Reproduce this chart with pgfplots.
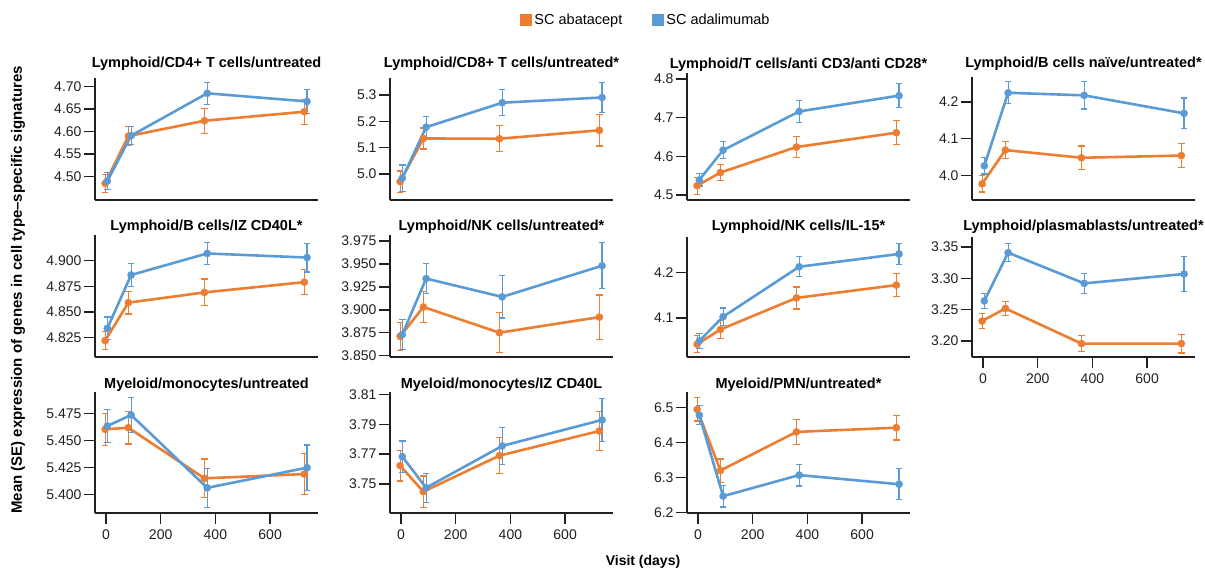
\documentclass[border=0pt]{standalone}
\usepackage{fontspec}
\setmainfont{Liberation Sans}
\usepackage{pgfplots}
\pgfplotsset{compat=1.18}
\definecolor{cOr}{RGB}{237,125,49}
\definecolor{cBl}{RGB}{91,155,213}
\definecolor{axc}{RGB}{35,31,32}
\pgfplotsset{
 panel/.style={
  scale only axis, width=223pt, height=122pt, anchor=south west,
  axis lines*=left, axis line style={line width=1.5pt, color=axc},
  xmin=-40, xmax=775,
  tick style={line width=1.5pt, color=axc},
  major tick length=11pt, tick align=outside,
  tick label style={font=\fontsize{14}{16}\selectfont, text=axc},
  yticklabel style={xshift=1pt},
  xticklabel style={yshift=-2pt},
  xtick=\empty,
  title style={font=\fontsize{14.5}{16}\selectfont\bfseries, at={(0.5,1)}, anchor=base},
  clip=false,
 },
 ts/.style={title style={yshift=#1}},
 xt/.style={xtick={0,200,400,600}, xticklabels={0,200,400,600}},
 ser/.style={line width=2.6pt, color=#1, mark=*, mark size=3.6pt, mark options={solid, line width=0.4pt, fill=#1},
  error bars/.cd, y dir=both, y explicit,
  error bar style={line width=1.2pt, color=#1},
  error mark options={rotate=90, mark size=3.2pt, line width=1.2pt, color=#1}},
}
\begin{document}
\begin{tikzpicture}
\path[use as bounding box] (0,0) rectangle (1205pt,571pt);
% ---------- Row 1 ----------
\begin{axis}[panel, ts=4pt, at={(95pt,371pt)}, ymin=4.448, ymax=4.719,
  ytick={4.50,4.55,4.60,4.65,4.70}, yticklabels={4.50,4.55,4.60,4.65,4.70},
  title={Lymphoid/CD4+ T cells/untreated}]
\addplot[ser=cOr] coordinates {(-3,4.485)+-(0,0.020) (82,4.590)+-(0,0.021) (360,4.624)+-(0,0.028) (725,4.644)+-(0,0.028)};
\addplot[ser=cBl] coordinates {(5,4.490)+-(0,0.019) (92,4.591)+-(0,0.020) (370,4.685)+-(0,0.024) (735,4.667)+-(0,0.027)};
\end{axis}
\begin{axis}[panel, ts=4pt, at={(390pt,371pt)}, ymin=4.901, ymax=5.365,
  ytick={5.0,5.1,5.2,5.3}, yticklabels={5.0,5.1,5.2,5.3},
  title={Lymphoid/CD8+ T cells/untreated*},
  legend style={at={(1.148,1.475)}, anchor=center, draw=none, fill=none, legend columns=2,
   font=\fontsize{14.5}{16}\selectfont, /tikz/every even column/.append style={column sep=28pt}},
  legend image code/.code={\fill[#1, draw=none] (0pt,-6pt) rectangle (12pt,6pt);}]
\addlegendimage{fill=cOr}\addlegendentry{SC abatacept}
\addlegendimage{fill=cBl}\addlegendentry{SC adalimumab}
\addplot[ser=cOr] coordinates {(-3,4.971)+-(0,0.040) (82,5.135)+-(0,0.040) (360,5.134)+-(0,0.050) (725,5.166)+-(0,0.060)};
\addplot[ser=cBl] coordinates {(5,4.984)+-(0,0.050) (92,5.178)+-(0,0.040) (370,5.271)+-(0,0.049) (735,5.291)+-(0,0.057)};
\end{axis}
\begin{axis}[panel, ts=-2pt, height=127pt, at={(687pt,371pt)}, ymin=4.487, ymax=4.8155,
  ytick={4.5,4.6,4.7,4.8}, yticklabels={4.5,4.6,4.7,4.8},
  title={Lymphoid/T cells/anti CD3/anti CD28*}]
\addplot[ser=cOr] coordinates {(-3,4.524)+-(0,0.022) (82,4.558)+-(0,0.020) (360,4.624)+-(0,0.028) (725,4.661)+-(0,0.031)};
\addplot[ser=cBl] coordinates {(5,4.539)+-(0,0.016) (92,4.616)+-(0,0.022) (370,4.716)+-(0,0.029) (735,4.757)+-(0,0.031)};
\end{axis}
\begin{axis}[panel, ts=3pt, height=123pt, at={(972pt,371pt)}, ymin=3.933, ymax=4.268,
  ytick={4.0,4.1,4.2}, yticklabels={4.0,4.1,4.2},
  title={Lymphoid/B cells naïve/untreated*}]
\addplot[ser=cOr] coordinates {(-3,3.977)+-(0,0.022) (82,4.069)+-(0,0.023) (360,4.048)+-(0,0.032) (725,4.054)+-(0,0.032)};
\addplot[ser=cBl] coordinates {(5,4.026)+-(0,0.022) (92,4.225)+-(0,0.030) (370,4.218)+-(0,0.037) (735,4.169)+-(0,0.042)};
\end{axis}
% ---------- Row 2 ----------
\begin{axis}[panel, ts=-2pt, at={(95pt,214pt)}, ymin=4.806, ymax=4.925,
  ytick={4.825,4.850,4.875,4.900}, yticklabels={4.825,4.850,4.875,4.900},
  title={Lymphoid/B cells/IZ CD40L*}]
\addplot[ser=cOr] coordinates {(-3,4.822)+-(0,0.009) (82,4.859)+-(0,0.011) (360,4.869)+-(0,0.013) (725,4.879)+-(0,0.012)};
\addplot[ser=cBl] coordinates {(5,4.834)+-(0,0.011) (92,4.886)+-(0,0.011) (370,4.907)+-(0,0.011) (735,4.903)+-(0,0.014)};
\end{axis}
\begin{axis}[panel, ts=-2pt, at={(390pt,214pt)}, ymin=3.8485, ymax=3.9815,
  ytick={3.850,3.875,3.900,3.925,3.950,3.975}, yticklabels={3.850,3.875,3.900,3.925,3.950,3.975},
  title={Lymphoid/NK cells/untreated*}]
\addplot[ser=cOr] coordinates {(-3,3.871)+-(0,0.015) (82,3.903)+-(0,0.017) (360,3.875)+-(0,0.022) (725,3.892)+-(0,0.024)};
\addplot[ser=cBl] coordinates {(5,3.873)+-(0,0.016) (92,3.934)+-(0,0.016) (370,3.914)+-(0,0.023) (735,3.948)+-(0,0.025)};
\end{axis}
\begin{axis}[panel, ts=0pt, height=120pt, at={(687pt,214pt)}, ymin=4.015, ymax=4.277,
  ytick={4.1,4.2}, yticklabels={4.1,4.2},
  title={Lymphoid/NK cells/IL-15*}]
\addplot[ser=cOr] coordinates {(-3,4.043)+-(0,0.019) (82,4.075)+-(0,0.020) (360,4.144)+-(0,0.024) (725,4.172)+-(0,0.025)};
\addplot[ser=cBl] coordinates {(5,4.050)+-(0,0.017) (92,4.103)+-(0,0.019) (370,4.212)+-(0,0.022) (735,4.240)+-(0,0.023)};
\end{axis}
\begin{axis}[panel, xt, ts=0pt, height=120pt, at={(972pt,214pt)}, ymin=3.1746, ymax=3.366,
  ytick={3.20,3.25,3.30,3.35}, yticklabels={3.20,3.25,3.30,3.35},
  title={Lymphoid/plasmablasts/untreated*}]
\addplot[ser=cOr] coordinates {(-3,3.232)+-(0,0.012) (82,3.252)+-(0,0.011) (360,3.196)+-(0,0.013) (725,3.196)+-(0,0.015)};
\addplot[ser=cBl] coordinates {(5,3.264)+-(0,0.012) (92,3.341)+-(0,0.014) (370,3.292)+-(0,0.016) (735,3.307)+-(0,0.028)};
\end{axis}
% ---------- Row 3 ----------
\begin{axis}[panel, xt, ts=-2pt, height=121pt, at={(95pt,58pt)}, ymin=5.3827, ymax=5.4948,
  ytick={5.400,5.425,5.450,5.475}, yticklabels={5.400,5.425,5.450,5.475},
  title={Myeloid/monocytes/untreated}]
\addplot[ser=cOr] coordinates {(-3,5.4602)+-(0,0.015) (82,5.4617)+-(0,0.015) (360,5.4148)+-(0,0.018) (725,5.4188)+-(0,0.019)};
\addplot[ser=cBl] coordinates {(5,5.4633)+-(0,0.015) (92,5.4735)+-(0,0.016) (370,5.4060)+-(0,0.018) (735,5.4247)+-(0,0.021)};
\end{axis}
\begin{axis}[panel, xt, ts=-2pt, height=121pt, at={(390pt,58pt)}, ymin=3.7306, ymax=3.8116,
  ytick={3.75,3.77,3.79,3.81}, yticklabels={3.75,3.77,3.79,3.81},
  title={Myeloid/monocytes/IZ CD40L}]
\addplot[ser=cOr] coordinates {(-3,3.7623)+-(0,0.0103) (82,3.7449)+-(0,0.0105) (360,3.7690)+-(0,0.0120) (725,3.7855)+-(0,0.0128)};
\addplot[ser=cBl] coordinates {(5,3.7683)+-(0,0.0105) (92,3.7475)+-(0,0.0097) (370,3.7755)+-(0,0.0126) (735,3.7929)+-(0,0.0144)};
\end{axis}
\begin{axis}[panel, xt, ts=-2pt, height=121pt, at={(687pt,58pt)}, ymin=6.199, ymax=6.5437,
  ytick={6.2,6.3,6.4,6.5}, yticklabels={6.2,6.3,6.4,6.5},
  title={Myeloid/PMN/untreated*}]
\addplot[ser=cOr] coordinates {(-3,6.494)+-(0,0.033) (82,6.320)+-(0,0.033) (360,6.430)+-(0,0.036) (725,6.442)+-(0,0.035)};
\addplot[ser=cBl] coordinates {(5,6.478)+-(0,0.028) (92,6.247)+-(0,0.031) (370,6.307)+-(0,0.031) (735,6.281)+-(0,0.044)};
\end{axis}
% ---------- labels ----------
\node[rotate=90, font=\fontsize{15}{17}\selectfont\bfseries] at (18pt,281pt) {Mean (SE) expression of genes in cell type–specific signatures};
\node[font=\fontsize{14}{16}\selectfont\bfseries] at (643pt,9pt) {Visit (days)};
\end{tikzpicture}
\end{document}
